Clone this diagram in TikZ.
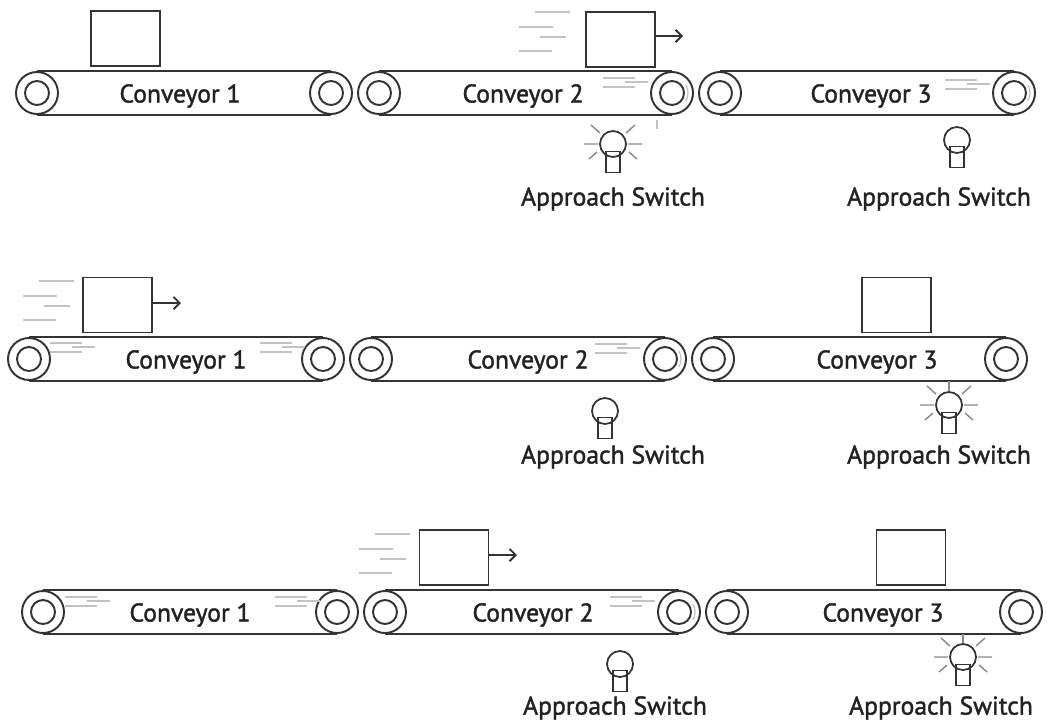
\documentclass[tikz,border=0pt]{standalone}
\usepackage{fontspec}
\usetikzlibrary{arrows.meta}
\setmainfont[FakeBold=1.5]{PT Sans}
\definecolor{inkc}{HTML}{333333}
\definecolor{textc}{HTML}{222222}
\definecolor{speedc}{HTML}{C2C2C2}
\tikzset{
  roller/.style={draw=inkc,circle,line width=1.1pt,minimum size=0.84cm,inner sep=0pt},
  hub/.style={draw=inkc,circle,line width=1.1pt,minimum size=0.48cm,inner sep=0pt},
  belt/.style={draw=inkc,line width=1.1pt},
  load/.style={draw=inkc,line width=1.1pt,minimum width=1.38cm,minimum height=1.1cm,inner sep=0pt},
  bulb/.style={draw=inkc,circle,line width=1pt,minimum size=0.52cm,inner sep=0pt},
  stem/.style={draw=inkc,line width=1pt,minimum width=0.28cm,minimum height=0.42cm,inner sep=0pt},
  ray/.style={draw=speedc!60!inkc,line width=0.8pt},
  speed/.style={draw=speedc,line width=0.7pt},
  caption/.style={text=textc,font=\fontsize{14.6}{17}\selectfont,inner sep=0pt,yshift=-0.06cm},
  push/.style={belt,-{Straight Barb[length=3.5pt,width=7pt]}},
}
\begin{document}
\begin{tikzpicture}[x=0.02cm,y=-0.02cm]
\useasboundingbox (0,0) rectangle (1047,720);
% top row
\node [roller] (c11l) at (37,93) {};
\node [hub] (h11l) at (37,93) {};
\node [roller] (c11r) at (331,93) {};
\node [hub] (h11r) at (331,93) {};
\draw [belt] (c11l.north) -- (c11r.north);
\draw [belt] (c11l.south) -- (c11r.south);
\node [caption] (n11) at (180,93) {Conveyor 1};
\node [roller] (c12l) at (379,93) {};
\node [hub] (h12l) at (379,93) {};
\node [roller] (c12r) at (672,93) {};
\node [hub] (h12r) at (672,93) {};
\draw [belt] (c12l.north) -- (c12r.north);
\draw [belt] (c12l.south) -- (c12r.south);
\node [caption] (n12) at (523,93) {Conveyor 2};
\node [roller] (c13l) at (720,93) {};
\node [hub] (h13l) at (720,93) {};
\node [roller] (c13r) at (1014,93) {};
\node [hub] (h13r) at (1014,93) {};
\draw [belt] (c13l.north) -- (c13r.north);
\draw [belt] (c13l.south) -- (c13r.south);
\node [caption] (n13) at (871,93) {Conveyor 3};
\node [load] (b11) at (125.5,38.5) {};
\node [load] (b12) at (620.5,39.5) {};
\coordinate (a12) at (683,36);
\draw [push] (b12.east |- a12) -- (a12);
\draw [speed] (535,12) -- (570,12) (519,27) -- (553,27) (540,37) -- (566,37) (519,51) -- (552,51);
\draw [speed] (603,78) -- (635,78) (625,82) -- (648,82) (603,87) -- (635,87);
\draw [speed] (945,80) -- (977,80) (967,84) -- (990,84) (945,89) -- (977,89);
\draw [speed] (c12r.center) ++(-30:16) arc (-30:30:16);
\draw [speed] (c13r.center) ++(-30:16) arc (-30:30:16);
\draw [speed] (657,120) -- (657,129);
\node [stem] (t12) at (613,162) {};
\node [bulb] (s12) at (613,144) {};
\draw [ray,shift={(613,144)}] (-29,0) -- (-15,0) (15,0) -- (29,0) (-22,-19) -- (-13,-11) (22,-19) -- (13,-11) (-24,15) -- (-16,8) (24,15) -- (16,8);
\node [caption] (l12) at (613,196) {Approach Switch};
\node [stem] (t13) at (957,157) {};
\node [bulb] (s13) at (957,140) {};
\node [caption] (l13) at (939,196) {Approach Switch};
% middle row
\node [roller] (c21l) at (29,359) {};
\node [hub] (h21l) at (29,359) {};
\node [roller] (c21r) at (323,359) {};
\node [hub] (h21r) at (323,359) {};
\draw [belt] (c21l.north) -- (c21r.north);
\draw [belt] (c21l.south) -- (c21r.south);
\node [caption] (n21) at (186,359) {Conveyor 1};
\node [roller] (c22l) at (371,359) {};
\node [hub] (h22l) at (371,359) {};
\node [roller] (c22r) at (665,359) {};
\node [hub] (h22r) at (665,359) {};
\draw [belt] (c22l.north) -- (c22r.north);
\draw [belt] (c22l.south) -- (c22r.south);
\node [caption] (n22) at (528,359) {Conveyor 2};
\node [roller] (c23l) at (713,359) {};
\node [hub] (h23l) at (713,359) {};
\node [roller] (c23r) at (1006,359) {};
\node [hub] (h23r) at (1006,359) {};
\draw [belt] (c23l.north) -- (c23r.north);
\draw [belt] (c23l.south) -- (c23r.south);
\node [caption] (n23) at (877,359) {Conveyor 3};
\node [load] (b21) at (117.5,305) {};
\coordinate (a21) at (181,303);
\draw [push] (b21.east |- a21) -- (a21);
\node [load] (b23) at (896.5,305) {};
\draw [speed] (39,281) -- (74,281) (23,296) -- (57,296) (44,306) -- (70,306) (23,320) -- (56,320);
\draw [speed] (50,343) -- (82,343) (72,347) -- (95,347) (50,352) -- (82,352);
\draw [speed] (260,343) -- (292,343) (282,347) -- (305,347) (260,352) -- (292,352);
\draw [speed] (595,344) -- (627,344) (617,348) -- (640,348) (595,353) -- (627,353);
\draw [speed] (c22r.center) ++(-30:16) arc (-30:30:16);
\node [stem] (t22) at (605,428) {};
\node [bulb] (s22) at (605,411) {};
\node [caption] (l22) at (613,454) {Approach Switch};
\node [stem] (t23) at (949,423) {};
\node [bulb] (s23) at (949,405) {};
\draw [ray] (c23l.south -| s23) -- (s23.north);
\draw [ray,shift={(949,405)}] (-29,0) -- (-15,0) (15,0) -- (29,0) (-22,-19) -- (-13,-11) (22,-19) -- (13,-11) (-24,15) -- (-16,8) (24,15) -- (16,8);
\node [caption] (l23) at (939,454) {Approach Switch};
% bottom row
\node [roller] (c31l) at (43,612) {};
\node [hub] (h31l) at (43,612) {};
\node [roller] (c31r) at (337,612) {};
\node [hub] (h31r) at (337,612) {};
\draw [belt] (c31l.north) -- (c31r.north);
\draw [belt] (c31l.south) -- (c31r.south);
\node [caption] (n31) at (190,612) {Conveyor 1};
\node [roller] (c32l) at (385,612) {};
\node [hub] (h32l) at (385,612) {};
\node [roller] (c32r) at (679,612) {};
\node [hub] (h32r) at (679,612) {};
\draw [belt] (c32l.north) -- (c32r.north);
\draw [belt] (c32l.south) -- (c32r.south);
\node [caption] (n32) at (533,612) {Conveyor 2};
\node [roller] (c33l) at (727,612) {};
\node [hub] (h33l) at (727,612) {};
\node [roller] (c33r) at (1021,612) {};
\node [hub] (h33r) at (1021,612) {};
\draw [belt] (c33l.north) -- (c33r.north);
\draw [belt] (c33l.south) -- (c33r.south);
\node [caption] (n33) at (883,612) {Conveyor 3};
\node [load] (b32) at (454,557.5) {};
\coordinate (a32) at (517,555);
\draw [push] (b32.east |- a32) -- (a32);
\node [load] (b33) at (911,557.5) {};
\draw [speed] (375,534) -- (410,534) (359,549) -- (393,549) (380,559) -- (406,559) (359,573) -- (392,573);
\draw [speed] (65,597) -- (97,597) (87,601) -- (110,601) (65,606) -- (97,606);
\draw [speed] (275,597) -- (307,597) (297,601) -- (320,601) (275,606) -- (307,606);
\draw [speed] (610,597) -- (642,597) (632,601) -- (655,601) (610,606) -- (642,606);
\draw [speed] (c32r.center) ++(-30:16) arc (-30:30:16);
\node [stem] (t32) at (620,681) {};
\node [bulb] (s32) at (620,664) {};
\node [caption] (l32) at (615,705) {Approach Switch};
\node [stem] (t33) at (963,675) {};
\node [bulb] (s33) at (963,657) {};
\draw [ray] (c33l.south -| s33) -- (s33.north);
\draw [ray,shift={(963,657)}] (-29,0) -- (-15,0) (15,0) -- (29,0) (-22,-19) -- (-13,-11) (22,-19) -- (13,-11) (-24,15) -- (-16,8) (24,15) -- (16,8);
\node [caption] (l33) at (941,705) {Approach Switch};
\end{tikzpicture}
\end{document}
